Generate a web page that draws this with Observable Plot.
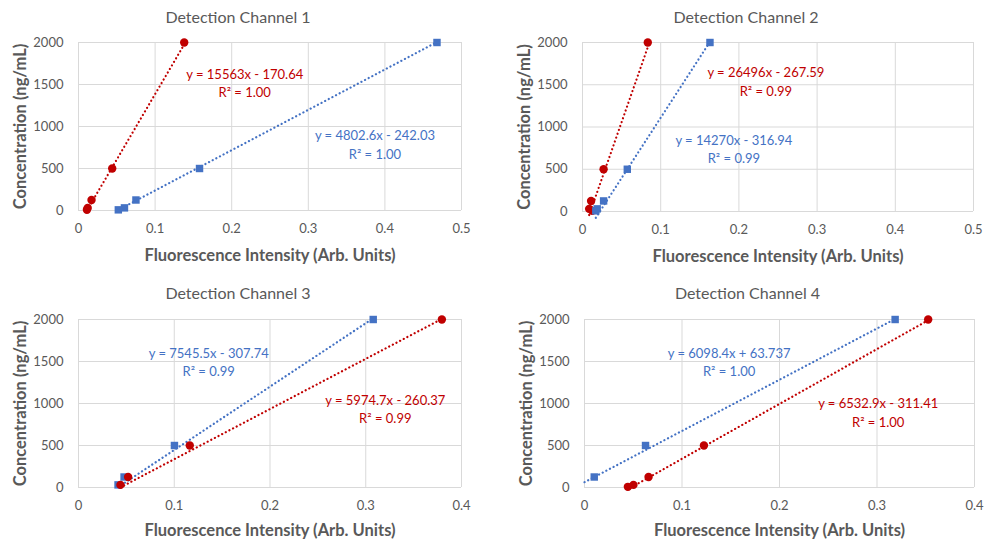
<!DOCTYPE html>
<html><head><meta charset="utf-8">
<script src="https://cdn.jsdelivr.net/npm/d3@7"></script>
<script src="https://cdn.jsdelivr.net/npm/@observablehq/plot@0.6"></script>
<style>
body{margin:0;background:#fff;}
#root{position:relative;width:984px;height:544px;overflow:hidden;}
#root > div, #root > svg{position:absolute;}
</style></head><body><div id="root"></div>
<script>
// ---- data ----
const concentrations = [2000, 500, 125, 31.25, 7.8];
const titles = ["Detection Channel 1", "Detection Channel 2", "Detection Channel 3", "Detection Channel 4"];
const xLabel = "Fluorescence Intensity (Arb. Units)";
const yLabel = "Concentration (ng/mL)";
const xTicksA = [0, 0.1, 0.2, 0.3, 0.4, 0.5];
const xTicksB = [0, 0.1, 0.2, 0.3, 0.4];
const yTicks = [0, 500, 1000, 1500, 2000];

const ch1Red = [0.138, 0.044, 0.017, 0.012, 0.011];
const ch1Blue = [0.468, 0.158, 0.075, 0.060, 0.052];
const ch2Red = [0.0835, 0.027, 0.011, 0.0085, 0.0125];
const ch2Blue = [0.163, 0.0573, 0.027, 0.0188, 0.017];
const ch3Blue = [0.3078, 0.1002, 0.0476, 0.0413];
const ch3Red = [0.3795, 0.1162, 0.0518, 0.0438];
const ch4Blue = [0.3186, 0.0626, 0.0100];
const ch4Red = [0.3525, 0.1225, 0.0657, 0.0502, 0.0445];

const slopes = {ch1Red: 15563, ch1Blue: 4802.6, ch2Red: 26496, ch2Blue: 14270, ch3Blue: 7545.5, ch3Red: 5974.7, ch4Blue: 6098.4, ch4Red: 6532.9};
const intercepts = {ch1Red: -170.64, ch1Blue: -242.03, ch2Red: -267.59, ch2Blue: -316.94, ch3Blue: -307.74, ch3Red: -260.37, ch4Blue: 63.737, ch4Red: -311.41};
const eqTexts = {ch1Red: "y = 15563x - 170.64", ch1Blue: "y = 4802.6x - 242.03", ch2Red: "y = 26496x - 267.59", ch2Blue: "y = 14270x - 316.94", ch3Blue: "y = 7545.5x - 307.74", ch3Red: "y = 5974.7x - 260.37", ch4Blue: "y = 6098.4x + 63.737", ch4Red: "y = 6532.9x - 311.41"};
const r2Texts = {ch1Red: "R² = 1.00", ch1Blue: "R² = 1.00", ch2Red: "R² = 0.99", ch2Blue: "R² = 0.99", ch3Blue: "R² = 0.99", ch3Red: "R² = 0.99", ch4Blue: "R² = 1.00", ch4Red: "R² = 1.00"};

// ---- layout / style ----
const RED = "#C00000", BLUE = "#4472C4", GRID = "#d9d9d9", TXT = "#595959";
const FONT = "Lato, 'Open Sans', sans-serif";
const layout = [
  {left: 0, top: 0, width: 490, height: 272, mL: 78, mR: 29, mT: 42, mB: 62, xMax: 0.5, xTicks: xTicksA,
   series: [{key: "ch1Red", xs: ch1Red, color: RED, sym: "circle", lx: 0.217, ly: 1531},
            {key: "ch1Blue", xs: ch1Blue, color: BLUE, sym: "square", lx: 0.387, ly: 794}]},
  {left: 490, top: 0, width: 494, height: 272, mL: 92, mR: 11, mT: 42, mB: 61, xMax: 0.5, xTicks: xTicksA,
   series: [{key: "ch2Red", xs: ch2Red, color: RED, sym: "circle", lx: 0.2345, ly: 1550},
            {key: "ch2Blue", xs: ch2Blue, color: BLUE, sym: "square", lx: 0.1936, ly: 753}]},
  {left: 0, top: 272, width: 490, height: 272, mL: 78, mR: 29, mT: 47, mB: 57, xMax: 0.4, xTicks: xTicksB,
   series: [{key: "ch3Blue", xs: ch3Blue, color: BLUE, sym: "square", lx: 0.136, ly: 1505},
            {key: "ch3Red", xs: ch3Red, color: RED, sym: "circle", lx: 0.3204, ly: 944}]},
  {left: 490, top: 272, width: 494, height: 272, mL: 94, mR: 10, mT: 47, mB: 57, xMax: 0.4, xTicks: xTicksB,
   series: [{key: "ch4Blue", xs: ch4Blue, color: BLUE, sym: "square", lx: 0.1483, ly: 1503, fromZero: true},
            {key: "ch4Red", xs: ch4Red, color: RED, sym: "circle", lx: 0.3012, ly: 905}]}
];

const root = document.getElementById("root");
layout.forEach((p, i) => {
  const marks = [
    Plot.gridX(p.xTicks, {stroke: GRID, strokeOpacity: 1, strokeWidth: 1}),
    Plot.gridY(yTicks, {stroke: GRID, strokeOpacity: 1, strokeWidth: 1}),
    Plot.axisX(p.xTicks, {tickSize: 0, tickPadding: 13, tickFormat: d => String(d), label: null}),
    Plot.axisY(yTicks, {tickSize: 0, tickPadding: 15, tickFormat: d => String(d), label: null})
  ];
  p.series.forEach(s => {
    const pts = s.xs.map((x, j) => ({x, y: concentrations[j]}));
    const x0 = s.fromZero ? 0 : d3.min(s.xs), x1 = d3.max(s.xs);
    const trend = [x0, x1].map(x => ({x, y: slopes[s.key] * x + intercepts[s.key]}));
    marks.push(Plot.line(trend, {x: "x", y: "y", stroke: s.color, strokeWidth: 2.2, strokeDasharray: "0.1,4", strokeLinecap: "round"}));
    marks.push(Plot.dot(pts, {x: "x", y: "y", fill: s.color, stroke: "none", r: 4.2, symbol: s.sym}));
    marks.push(Plot.text([eqTexts[s.key] + "\n" + r2Texts[s.key]], {x: () => s.lx, y: () => s.ly, text: d => d, fill: s.color, fontSize: 13, lineHeight: 1.42, textAnchor: "middle"}));
  });
  marks.push(Plot.text([titles[i]], {frameAnchor: "top", lineAnchor: "middle", dy: i < 2 ? -25 : -26, dx: -32, text: d => d, fill: TXT, fontSize: 16}));
  marks.push(Plot.text([xLabel], {frameAnchor: "bottom", lineAnchor: "middle", textAnchor: "middle", dy: i < 2 ? 45 : 43, text: d => d, fill: TXT, fontSize: 16.5, fontWeight: "bold"}));
  marks.push(Plot.text([yLabel], {frameAnchor: "left", lineAnchor: "middle", textAnchor: "middle", dx: -58, rotate: -90, text: d => d, fill: TXT, fontSize: 16.5, fontWeight: "bold"}));

  const svg = Plot.plot({
    width: p.width, height: p.height,
    marginLeft: p.mL, marginRight: p.mR, marginTop: p.mT, marginBottom: p.mB,
    x: {domain: [0, p.xMax]},
    y: {domain: [0, 2000]},
    style: {fontFamily: FONT, fontSize: "13px", color: TXT, background: "white", overflow: "visible"},
    marks
  });
  svg.style.left = p.left + "px";
  svg.style.top = p.top + "px";
  svg.style.position = "absolute";
  root.appendChild(svg);
});
</script></body></html>
